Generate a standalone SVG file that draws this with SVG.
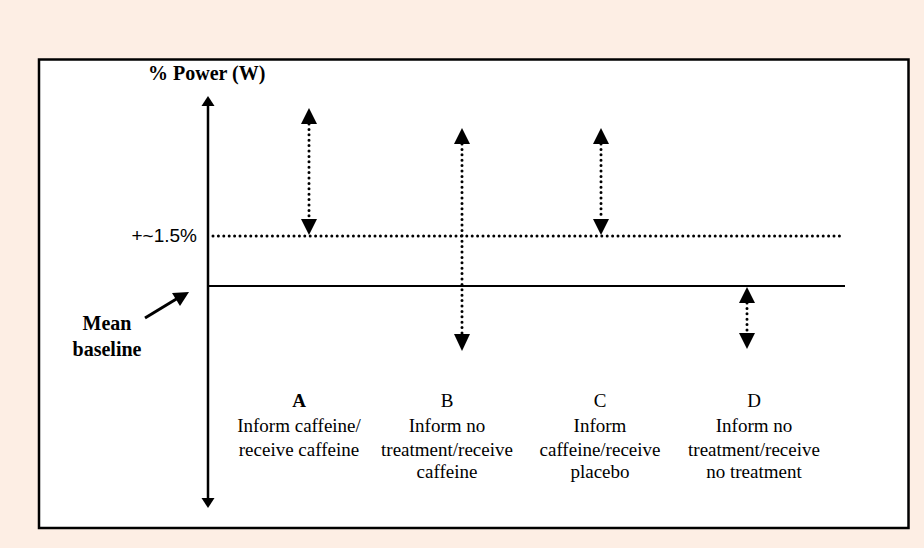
<svg xmlns="http://www.w3.org/2000/svg" width="924" height="548" viewBox="0 0 924 548">
<style>
text{font-family:"Liberation Serif","Times New Roman",serif;fill:#000}
text.sans{font-family:"Liberation Sans",Arial,sans-serif}
.lab{font-size:19px;text-anchor:middle}
.bold{font-weight:bold}
.dot{stroke:#000;stroke-width:3;stroke-linecap:round;stroke-dasharray:0 5.4;fill:none}
.solid{stroke:#000;fill:none}
.head{fill:#000}
</style>
<rect x="0" y="0" width="924" height="548" fill="#FDEEE4"/>
<rect x="39" y="59.5" width="869.5" height="468.5" fill="#fff" stroke="#000" stroke-width="2.5"/>

<g id="connectors">
  <line class="solid" x1="208" y1="104" x2="208" y2="500" stroke-width="2.5"/>
  <polygon class="head" points="208,96 201.5,106 214.5,106"/>
  <polygon class="head" points="208,508 201.5,498 214.5,498"/>
  <line class="solid" x1="208" y1="286" x2="845" y2="286" stroke-width="2"/>
  <line class="dot" x1="213" y1="236" x2="842" y2="236"/>
  <line class="dot" x1="309" y1="124" x2="309" y2="219"/>
  <polygon class="head" points="309,108 301,124 317,124"/>
  <polygon class="head" points="309,235 301,219 317,219"/>
  <line class="dot" x1="462" y1="144" x2="462" y2="334"/>
  <polygon class="head" points="462,128 454,144 470,144"/>
  <polygon class="head" points="462,351 454,334 470,334"/>
  <line class="dot" x1="601" y1="144" x2="601" y2="219"/>
  <polygon class="head" points="601,128 593,144 609,144"/>
  <polygon class="head" points="601,235 593,219 609,219"/>
  <line class="dot" x1="747" y1="303" x2="747" y2="333"/>
  <polygon class="head" points="747,287 739,303 755,303"/>
  <polygon class="head" points="747,349 739,333 755,333"/>
  <line class="solid" x1="145" y1="318" x2="178" y2="298" stroke-width="3"/>
  <polygon class="head" points="189,292 172,293 180,306"/>
</g>

<g id="axis-title"><text class="bold" x="148" y="80" font-size="20">% Power (W)</text></g>
<g id="level-label"><text class="sans" x="197" y="242" font-size="19" text-anchor="end">+~1.5%</text></g>
<g id="mean-baseline">
  <text class="bold" x="107" y="330" font-size="20" text-anchor="middle">Mean</text>
  <text class="bold" x="107" y="356" font-size="20" text-anchor="middle">baseline</text>
</g>
<g id="group-A">
  <text class="lab bold" x="299" y="407">A</text>
  <text class="lab" x="299" y="432">Inform caffeine/</text>
  <text class="lab" x="299" y="456">receive caffeine</text>
</g>
<g id="group-B">
  <text class="lab" x="447" y="407">B</text>
  <text class="lab" x="447" y="432">Inform no</text>
  <text class="lab" x="447" y="456">treatment/receive</text>
  <text class="lab" x="447" y="478">caffeine</text>
</g>
<g id="group-C">
  <text class="lab" x="600" y="407">C</text>
  <text class="lab" x="600" y="432">Inform</text>
  <text class="lab" x="600" y="456">caffeine/receive</text>
  <text class="lab" x="600" y="478">placebo</text>
</g>
<g id="group-D">
  <text class="lab" x="754" y="407">D</text>
  <text class="lab" x="754" y="432">Inform no</text>
  <text class="lab" x="754" y="456">treatment/receive</text>
  <text class="lab" x="754" y="478">no treatment</text>
</g>
</svg>
